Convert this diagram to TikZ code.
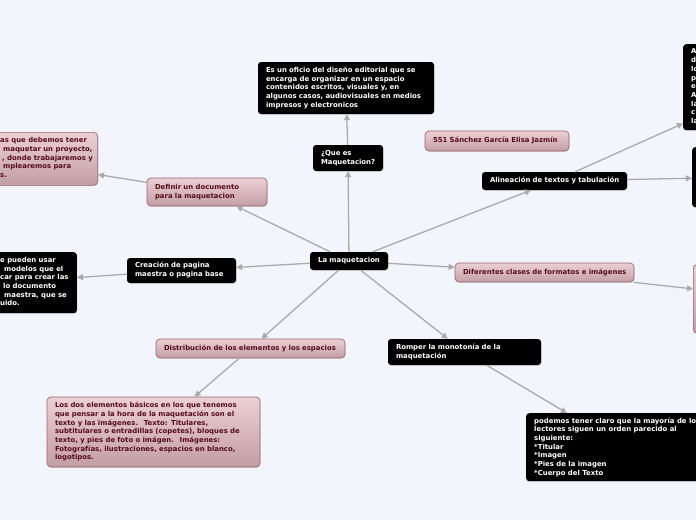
\documentclass[tikz,border=0pt]{standalone}
\usepackage{fontspec}
\setmainfont{DejaVu Sans}
\usetikzlibrary{arrows.meta,shadows}
\definecolor{bgc}{RGB}{243,245,253}
\definecolor{pinkT}{RGB}{236,208,212}
\definecolor{pinkB}{RGB}{194,158,164}
\definecolor{pinkD}{RGB}{150,100,110}
\definecolor{maroon}{RGB}{85,10,30}
\definecolor{linec}{RGB}{170,170,170}
\newcommand\tb[1]{\begin{tabular}{@{}l@{}}#1\end{tabular}}
\tikzset{
  every node/.style={font=\fontsize{6.9}{8.7}\selectfont\bfseries, inner xsep=8pt, inner ysep=0pt, align=left},
  blk/.style={fill=black, text=white, rounded corners=3pt, drop shadow={opacity=0.2, shadow xshift=0.6pt, shadow yshift=-0.8pt}},
  pnk/.style={top color=pinkT, bottom color=pinkB, draw=pinkD, line width=0.7pt, text=maroon, rounded corners=4pt, drop shadow={opacity=0.2, shadow xshift=0.6pt, shadow yshift=-0.8pt}},
  conn/.style={draw=linec, line width=1.3pt, -{Triangle[length=6pt,width=6pt]}},
}
\begin{document}
\begin{tikzpicture}[x=1pt,y=-1pt]
\useasboundingbox (0,0) rectangle (696,520);
\fill[bgc] (0,0) rectangle (696,520);

\node[blk, text width=62pt, minimum height=18pt, align=center] (c) at (349,261) {La maquetacion};
\node[blk, text width=54pt, minimum height=26pt] (que) at (348,158) {\tb{¿Que es\\Maquetacion?}};
\node[blk, text width=160pt, minimum height=52pt] (qdef) at (346,88) {\tb{Es un oficio del diseño editorial que se\\encarga de organizar en un espacio\\contenidos escritos, visuales y, en\\algunos casos, audiovisuales en medios\\impresos y electronicos}};
\node[pnk, text width=128pt, minimum height=20pt] (autor) at (497,141) {\tb{551 Sánchez García Elisa Jazmín}};
\node[blk, text width=129pt, minimum height=18pt] (alin) at (554.5,181) {\tb{Alineación de textos y tabulación}};
\node[blk, minimum width=162pt, minimum height=86pt, anchor=north west] (tr) at (683,44) {};
\node[text=white, anchor=west] (trt) at (683,87) {\tb{A\\d\\lo\\p\\e\\A\\la\\c\\la}};
\node[blk, minimum width=100pt, minimum height=60pt, anchor=north west] (rm) at (692,147) {};
\node[pnk, text width=163pt, minimum height=19pt] (dif) at (544.5,272.5) {\tb{Diferentes clases de formatos e imágenes}};
\node[pnk, minimum width=180pt, minimum height=69pt, anchor=north west] (rp) at (693,264) {};
\node[blk, text width=137pt, minimum height=26pt] (rom) at (464.5,352) {\tb{Romper la monotonía de la\\maquetación}};
\node[blk, minimum width=196pt, minimum height=68pt, anchor=north west] (br) at (526,413) {};
\node[text=white, anchor=west] (brt) at (526,447.5) {\tb{podemos tener claro que la mayoría de lo\\lectores siguen un orden parecido al\\siguiente:\\{*}Titular\\{*}Imagen\\{*}Pies de la imagen\\{*}Cuerpo del Texto}};
\node[pnk, text width=173pt, minimum height=19pt] (dist) at (250.5,348.5) {\tb{Distribución de los elementos y los espacios}};
\node[pnk, text width=197pt, minimum height=70pt] (bl) at (153.5,432) {\tb{Los dos elementos básicos en los que tenemos\\que pensar a la hora de la maquetación son el\\texto y las imágenes.~ Texto: Titulares,\\subtitulares o entradillas (copetes), bloques de\\texto, y pies de foto o imágen.~ Imágenes:\\Fotografías, ilustraciones, espacios en blanco,\\logotipos.}};
\node[blk, text width=93pt, minimum height=25pt] (crea) at (181.5,270.5) {\tb{Creación de pagina\\maestra o pagina base}};
\node[blk, minimum width=154pt, minimum height=61pt, anchor=north east] (lb) at (77,252) {};
\node[text=white, anchor=west, inner xsep=0pt] (lbt) at (0,282.5) {\tb{e pueden usar\\\hspace*{4pt}modelos que el\\car para crear las\\\hspace*{3pt}lo documento\\\hspace*{4pt}maestra, que se\\uido.}};
\node[pnk, text width=104pt, minimum height=28pt] (defi) at (207,192) {\tb{Definir un documento\\para la maquetacion}};
\node[pnk, minimum width=196pt, minimum height=53pt, anchor=north east] (lp) at (98,132) {};
\node[text=maroon, anchor=west, inner xsep=0pt] (lpt) at (0,158.5) {\tb{as que debemos tener\\\hspace*{3pt}maquetar un proyecto,\\\hspace*{2pt}, donde trabajaremos y\\\hspace*{3pt}mplearemos para\\s.}};

\draw[conn] (c) -- (que);
\draw[conn] (que) -- (qdef);
\draw[conn] (c) -- (alin);
\draw[conn] (alin) -- (tr);
\draw[conn] (alin) -- (rm);
\draw[conn] (c) -- (dif);
\draw[conn] (dif) -- (rp);
\draw[conn] (c) -- (rom);
\draw[conn] (rom) -- (br);
\draw[conn] (c) -- (dist);
\draw[conn] (dist) -- (bl);
\draw[conn] (c) -- (crea);
\draw[conn] (crea) -- (lb);
\draw[conn] (c) -- (defi);
\draw[conn] (defi) -- (lp);
\end{tikzpicture}
\end{document}
